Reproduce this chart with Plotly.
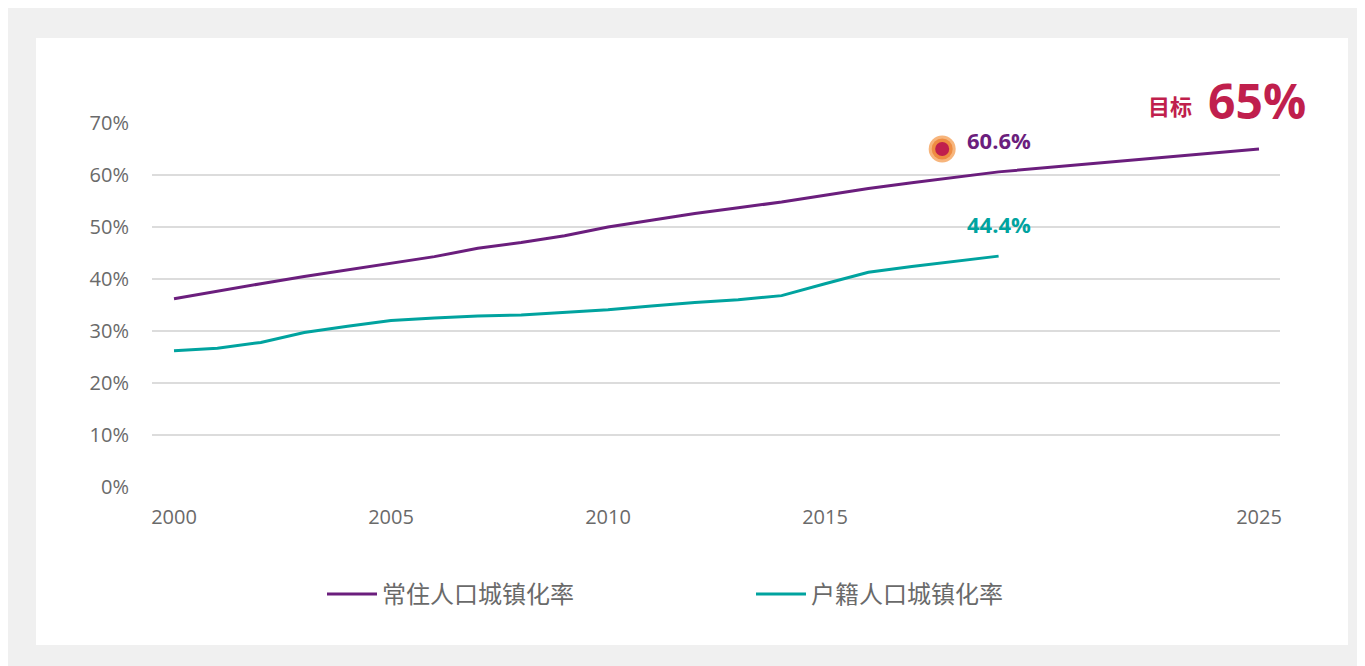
import plotly.graph_objects as go

FONT_FAMILY = "Open Sans, Noto Sans CJK SC, sans-serif"
CJK_FONT = "Noto Sans CJK SC, sans-serif"
PURPLE = "#6b1e7d"
TEAL = "#00a39f"
CRIMSON = "#c01f4d"
GREY_TEXT = "#6a6a6a"

years_resident = list(range(2000, 2020)) + [2025]
resident_rate = [36.2, 37.7, 39.1, 40.5, 41.8, 43.0, 44.3, 45.9, 47.0, 48.3,
                 50.0, 51.3, 52.6, 53.7, 54.8, 56.1, 57.4, 58.5, 59.6, 60.6, 65.0]

years_hukou = list(range(2000, 2020))
hukou_rate = [26.2, 26.7, 27.8, 29.7, 30.9, 32.0, 32.5, 32.9, 33.1, 33.6,
              34.1, 34.8, 35.5, 36.0, 36.8, 39.1, 41.3, 42.4, 43.4, 44.4]

target_x = [2017.7]
target_y = [65.0]

x_ticks = [2000, 2005, 2010, 2015, 2025]
y_ticks = [0, 10, 20, 30, 40, 50, 60, 70]
y_tick_labels = ["0%", "10%", "20%", "30%", "40%", "50%", "60%", "70%"]

# plot area in page pixels; the page body adds an 8px offset to the figure
L, R, T, B = 152, 1280, 123, 487
W, H = 1365, 666
OFF = 8


def px_x(p):
    return (p - L) / (R - L)


def px_y(p):
    return (B - p) / (B - T)


fig = go.Figure()
fig.add_trace(go.Scatter(
    x=years_resident, y=resident_rate, mode="lines", name="常住人口城镇化率",
    line=dict(color=PURPLE, width=3), hoverinfo="skip",
))
fig.add_trace(go.Scatter(
    x=years_hukou, y=hukou_rate, mode="lines", name="户籍人口城镇化率",
    line=dict(color=TEAL, width=3), hoverinfo="skip",
))
# target dot: halo + ring + core
for size, color in [(27, "#f7b57c"), (21, "#ee8c42"), (14, CRIMSON)]:
    fig.add_trace(go.Scatter(
        x=target_x, y=target_y, mode="markers", showlegend=False,
        marker=dict(size=size, color=color, line=dict(width=0)), hoverinfo="skip",
    ))

fig.add_annotation(x=2019, y=66.8, text="<b>60.6%</b>", showarrow=False,
                   font=dict(size=22, color=PURPLE, family=FONT_FAMILY))
fig.add_annotation(x=2019, y=50.6, text="<b>44.4%</b>", showarrow=False,
                   font=dict(size=22, color=TEAL, family=FONT_FAMILY))
fig.add_annotation(x=px_x(1308), y=px_y(100), xref="paper", yref="paper",
                   xanchor="right", yanchor="middle", text="<b>65%</b>", showarrow=False,
                   font=dict(size=48, color=CRIMSON, family=FONT_FAMILY))
fig.add_annotation(x=px_x(1194), y=px_y(105), xref="paper", yref="paper",
                   xanchor="right", yanchor="middle", text="<b>目标</b>", showarrow=False,
                   font=dict(size=22, color=CRIMSON, family=CJK_FONT))

fig.add_shape(type="rect", xref="paper", yref="paper", layer="below",
              x0=px_x(36), x1=px_x(1348), y0=px_y(645), y1=px_y(38),
              fillcolor="white", line=dict(width=0))

fig.update_xaxes(
    range=[2000 - 22 / 43.4, 2025 + 21 / 43.4], tickvals=x_ticks,
    showgrid=False, zeroline=False, showline=False, ticks="",
    ticklabelstandoff=16,
    tickfont=dict(size=20, color=GREY_TEXT, family=FONT_FAMILY),
    fixedrange=True,
)
fig.update_yaxes(
    range=[0, 70], tickvals=y_ticks, ticktext=y_tick_labels,
    showgrid=True, gridcolor="#dcdcdc", gridwidth=1.5,
    zeroline=False, showline=False, ticks="", ticklabelstandoff=22,
    tickfont=dict(size=20, color=GREY_TEXT, family=FONT_FAMILY),
    fixedrange=True,
)
fig.update_layout(
    width=W, height=H,
    margin=dict(l=L - OFF, r=W - (R - OFF), t=T - OFF, b=H - (B - OFF)),
    paper_bgcolor="#f0f0f0",
    plot_bgcolor="white",
    font=dict(family=FONT_FAMILY, color=GREY_TEXT),
    showlegend=True,
    legend=dict(
        orientation="h", x=px_x(322), y=px_y(572), xanchor="left", yanchor="top",
        entrywidth=364, itemwidth=50,
        font=dict(size=24, color=GREY_TEXT, family=CJK_FONT),
        bgcolor="rgba(0,0,0,0)",
    ),
)

fig.write_html("out.html")
